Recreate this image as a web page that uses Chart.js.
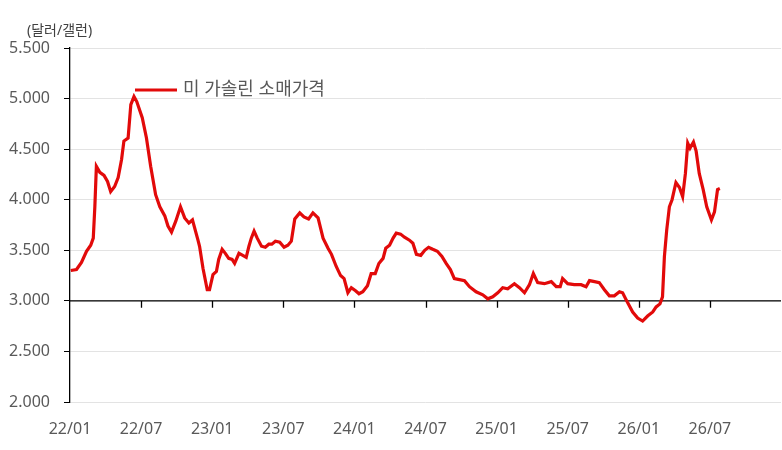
<!DOCTYPE html>
<html lang="ko">
<head>
<meta charset="utf-8">
<title>미 가솔린 소매가격</title>
<style>
  html, body { margin: 0; padding: 0; background: #fff; }
  #wrap { width: 782px; height: 450px; }
</style>
</head>
<body>
<div id="wrap"><canvas id="gasChart" width="782" height="450"></canvas></div>
<script src="https://cdn.jsdelivr.net/npm/chart.js@4.4.1/dist/chart.umd.min.js"></script>
<script>
// weekly-ish readings, dollars per gallon
const dates = [
  '2022-01-03','2022-01-18','2022-01-31','2022-02-12','2022-02-22','2022-02-28','2022-03-04','2022-03-08',
  '2022-03-17','2022-03-28','2022-04-06','2022-04-14','2022-04-24','2022-05-03','2022-05-12','2022-05-18',
  '2022-05-29','2022-06-05','2022-06-13','2022-06-20','2022-07-04','2022-07-15','2022-07-26','2022-08-08',
  '2022-08-19','2022-09-01','2022-09-09','2022-09-18','2022-09-29','2022-10-11','2022-10-22','2022-11-02',
  '2022-11-11','2022-11-25','2022-11-29','2022-12-08','2022-12-19','2022-12-25',
  '2023-01-03','2023-01-12','2023-01-18','2023-01-27','2023-02-04','2023-02-12','2023-02-20','2023-02-26',
  '2023-03-09','2023-03-19','2023-03-28','2023-04-04','2023-04-10','2023-04-17','2023-04-25','2023-05-06',
  '2023-05-16','2023-05-25','2023-06-02','2023-06-11','2023-06-22','2023-07-03','2023-07-13','2023-07-22',
  '2023-07-31','2023-08-13','2023-08-24','2023-09-05','2023-09-16','2023-09-29','2023-10-12','2023-10-25',
  '2023-11-03','2023-11-15','2023-11-26','2023-12-05','2023-12-15','2023-12-24',
  '2024-01-04','2024-01-13','2024-01-23','2024-02-04','2024-02-13','2024-02-23','2024-03-03','2024-03-14',
  '2024-03-21','2024-03-31','2024-04-09','2024-04-17','2024-04-28','2024-05-08','2024-05-21','2024-05-30',
  '2024-06-08','2024-06-19','2024-06-29','2024-07-09','2024-07-20','2024-08-01','2024-08-13','2024-08-24',
  '2024-09-04','2024-09-14','2024-09-27','2024-10-10','2024-10-23','2024-11-09','2024-11-26','2024-12-09',
  '2024-12-22',
  '2025-01-04','2025-01-17','2025-01-30','2025-02-15','2025-02-27','2025-03-12','2025-03-25','2025-04-04',
  '2025-04-15','2025-05-02','2025-05-20','2025-06-02','2025-06-12','2025-06-18','2025-07-01','2025-07-18',
  '2025-08-05','2025-08-18','2025-08-27','2025-09-09','2025-09-21','2025-10-04','2025-10-17','2025-10-30',
  '2025-11-12','2025-11-20','2025-12-03','2025-12-16','2025-12-29',
  '2026-01-11','2026-01-24','2026-02-06','2026-02-14','2026-02-23','2026-03-01','2026-03-06','2026-03-12',
  '2026-03-19','2026-03-26','2026-04-05','2026-04-14','2026-04-22','2026-04-29','2026-05-05','2026-05-11',
  '2026-05-20','2026-05-27','2026-06-04','2026-06-14','2026-06-23','2026-07-05','2026-07-13','2026-07-21',
  '2026-07-27'
];
const prices = [
  3.30, 3.31, 3.38, 3.49, 3.55, 3.62, 3.93, 4.33,
  4.27, 4.24, 4.18, 4.08, 4.13, 4.22, 4.40, 4.58,
  4.61, 4.94, 5.02, 4.97, 4.81, 4.61, 4.33, 4.05,
  3.93, 3.84, 3.74, 3.68, 3.79, 3.93, 3.82, 3.77,
  3.80, 3.60, 3.54, 3.32, 3.11, 3.11,
  3.26, 3.29, 3.41, 3.51, 3.47, 3.42, 3.41, 3.37,
  3.47, 3.45, 3.43, 3.54, 3.62, 3.69, 3.62, 3.54,
  3.53, 3.56, 3.56, 3.59, 3.58, 3.53, 3.55, 3.59,
  3.81, 3.87, 3.83, 3.81, 3.87, 3.82, 3.62, 3.52,
  3.46, 3.34, 3.25, 3.22, 3.08, 3.13,
  3.10, 3.07, 3.09, 3.15, 3.27, 3.27, 3.37, 3.42,
  3.52, 3.55, 3.62, 3.67, 3.66, 3.63, 3.60, 3.57,
  3.46, 3.45, 3.50, 3.53, 3.51, 3.49, 3.44, 3.37,
  3.31, 3.22, 3.21, 3.20, 3.14, 3.09, 3.06, 3.02,
  3.04,
  3.08, 3.13, 3.12, 3.17, 3.13, 3.08, 3.16, 3.27,
  3.18, 3.17, 3.19, 3.14, 3.14, 3.22, 3.17, 3.16,
  3.16, 3.14, 3.20, 3.19, 3.18, 3.11, 3.05, 3.05,
  3.09, 3.08, 2.98, 2.89, 2.83,
  2.80, 2.85, 2.89, 2.94, 2.97, 3.04, 3.44, 3.70,
  3.93, 4.00, 4.17, 4.12, 4.03, 4.26, 4.56, 4.51,
  4.57, 4.48, 4.26, 4.10, 3.93, 3.80, 3.88, 4.10,
  4.11
];
const xTickLabels = ['22/01', '22/07', '23/01', '23/07', '24/01', '24/07', '25/01', '25/07', '26/01', '26/07'];
const unitLabel = '(달러/갤런)';
const seriesName = '미 가솔린 소매가격';

// months since 2022-01-01, so the x axis can be linear
function monthOffset(s) {
  const [y, m, d] = s.split('-').map(Number);
  const days = new Date(y, m, 0).getDate();
  return (y - 2022) * 12 + (m - 1) + (d - 1) / days;
}
const points = dates.map((d, i) => ({ x: monthOffset(d), y: prices[i] }));

const FONT = '"Noto Sans", "Noto Sans CJK KR", sans-serif';
const GREY = '#595959';

// the category axis crosses at 3.000, with tick marks hanging below it
const crossAxisPlugin = {
  id: 'crossAxis',
  beforeDatasetsDraw(chart) {
    const { ctx, chartArea, scales: { x, y } } = chart;
    const yPos = y.getPixelForValue(3);
    ctx.save();
    ctx.strokeStyle = '#000';
    ctx.lineWidth = 1.3;
    ctx.beginPath();
    ctx.moveTo(chartArea.left, yPos);
    ctx.lineTo(chartArea.right, yPos);
    x.ticks.forEach(t => {
      if (t.value <= x.min || t.value >= x.max) return;
      const px = Math.round(x.getPixelForValue(t.value)) + 0.5;
      ctx.moveTo(px, yPos);
      ctx.lineTo(px, yPos + 7);
    });
    ctx.stroke();
    ctx.restore();
  },
  afterDraw(chart) {
    const { ctx, chartArea } = chart;
    const ds = chart.data.datasets[0];
    ctx.save();
    // unit label
    ctx.fillStyle = '#404040';
    ctx.font = '14px ' + FONT;
    ctx.textBaseline = 'middle';
    ctx.textAlign = 'left';
    ctx.fillText(unitLabel, 27, 31);
    // legend placed inside the plot
    const lx = chartArea.left + 65;
    const ly = 90;
    ctx.strokeStyle = ds.borderColor;
    ctx.lineWidth = 3;
    ctx.beginPath();
    ctx.moveTo(lx, ly);
    ctx.lineTo(lx + 42, ly);
    ctx.stroke();
    ctx.fillStyle = GREY;
    ctx.font = '18px ' + FONT;
    ctx.fillText(ds.label, lx + 48, ly);
    ctx.restore();
  }
};

new Chart(document.getElementById('gasChart'), {
  type: 'line',
  data: {
    datasets: [{
      label: seriesName,
      data: points,
      borderColor: '#e20a0a',
      borderWidth: 3.2,
      pointRadius: 0,
      tension: 0,
      fill: false
    }]
  },
  options: {
    responsive: false,
    animation: false,
    layout: { padding: { top: 48, right: 1, left: 0, bottom: 0 } },
    plugins: {
      legend: { display: false },
      tooltip: { enabled: false }
    },
    scales: {
      x: {
        type: 'linear',
        min: 0,
        max: 60,
        afterFit: s => { s.height = 48; s.paddingLeft = 0; s.paddingRight = 0; },
        grid: { display: false, drawTicks: false },
        border: { display: false },
        ticks: {
          stepSize: 6,
          padding: 18,
          color: GREY,
          font: { family: FONT, size: 16 },
          maxRotation: 0,
          autoSkip: false,
          callback: v => xTickLabels[v / 6] || ''
        }
      },
      y: {
        min: 2,
        max: 5.5,
        afterFit: s => { s.width = 70; },
        grid: {
          color: '#e3e3e3',
          lineWidth: 1,
          tickColor: '#000',
          tickLength: 6
        },
        border: { display: true, color: '#000', width: 1.3 },
        ticks: {
          stepSize: 0.5,
          padding: 14,
          color: GREY,
          font: { family: FONT, size: 16 },
          callback: v => v.toFixed(3)
        }
      }
    }
  },
  plugins: [crossAxisPlugin]
});
</script>
</body>
</html>
